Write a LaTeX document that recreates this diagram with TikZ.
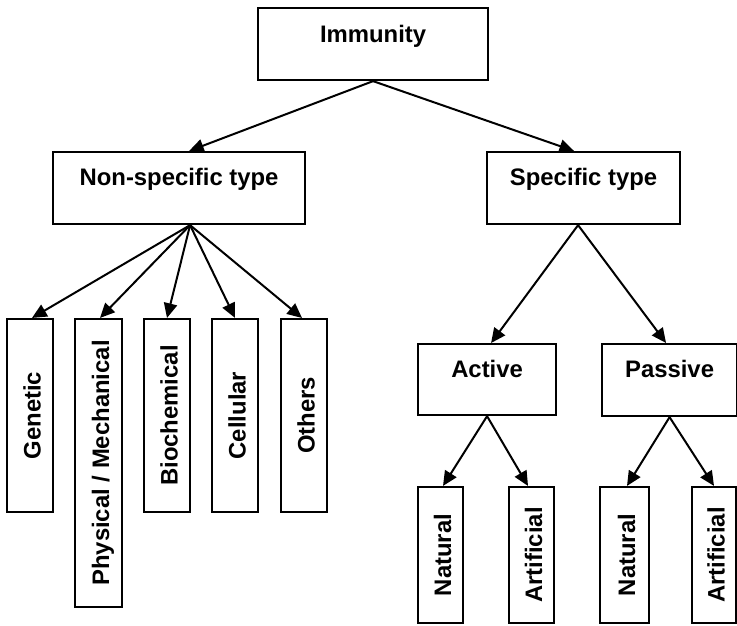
\documentclass[tikz,border=0pt]{standalone}
\usepackage{fontspec}
\usepackage{graphicx}
\setmainfont{Liberation Sans}
\usetikzlibrary{arrows.meta,calc}

% rotated label with a fixed height so every column sits the same way
\newcommand{\uptext}[1]{\rotatebox{90}{\raisebox{0pt}[15.75pt][0pt]{#1}}}

\begin{document}
\begin{tikzpicture}[x=0.75pt,y=-0.75pt,
  every node/.style={font=\fontsize{17.9pt}{21pt}\selectfont\bfseries},
  hbox/.style={draw, line width=1.6pt, inner sep=0pt, anchor=north west},
  vbox/.style={draw, line width=1.6pt, inner sep=0pt},
  link/.style={line width=1.5pt, -{Triangle[length=11pt,width=10pt]}}]
\useasboundingbox (0,0) rectangle (737,625);

% upper boxes, label near the top edge
\node[hbox, minimum width=172.5pt, text height=26pt, text depth=28pt] (imm) at (257,7) {Immunity};
\node[hbox, minimum width=189pt, text height=24.75pt, text depth=29.25pt] (non) at (52,151) {Non-specific type};
\node[hbox, minimum width=144.75pt, text height=24.75pt, text depth=29.25pt] (spec) at (486,151) {Specific type};
\node[hbox, minimum width=103.5pt, text height=24.75pt, text depth=28.5pt] (act) at (417,343) {Active};
\node[hbox, minimum width=101.25pt, text height=24.75pt, text depth=29.25pt] (pas) at (601,343) {Passive};

% non-specific branches
\node[vbox, minimum width=34.5pt, minimum height=144.75pt] (gen) at (30,415.5) {\uptext{Genetic}};
\node[vbox, minimum width=35.25pt, minimum height=216pt] (phys) at (98.5,463) {\uptext{Physical / Mechanical}};
\node[vbox, minimum width=34.5pt, minimum height=144.75pt] (bio) at (167,415.5) {\uptext{Biochemical}};
\node[vbox, minimum width=34.5pt, minimum height=144.75pt] (cell) at (235,415.5) {\uptext{Cellular}};
\node[vbox, minimum width=34.5pt, minimum height=144.75pt] (oth) at (304,415.5) {\uptext{Others}};

% specific branches
\node[vbox, minimum width=33.75pt, minimum height=102pt] (natA) at (440.5,555) {\uptext{Natural}};
\node[vbox, minimum width=33.75pt, minimum height=102pt] (artA) at (531.5,555) {\uptext{Artificial}};
\node[vbox, minimum width=36.75pt, minimum height=102pt] (natP) at (624.5,555) {\uptext{Natural}};
\node[vbox, minimum width=33pt, minimum height=102pt] (artP) at (714,555) {\uptext{Artificial}};

% connectors
\draw[link] (imm.south) -- ($(non.north)+(10,0)$);
\draw[link] (imm.south) -- ($(spec.north)+(-9.5,0)$);

\coordinate (nsrc) at ($(non.south)+(11,0)$);
\draw[link] (nsrc) -- ($(gen.north)+(2,0)$);
\draw[link] (nsrc) -- ($(phys.north)+(1.5,0)$);
\draw[link] (nsrc) -- (bio.north);
\draw[link] (nsrc) -- (cell.north);
\draw[link] (nsrc) -- ($(oth.north)+(-2,0)$);

\coordinate (ssrc) at ($(spec.south)+(-5.5,0)$);
\draw[link] (ssrc) -- ($(act.north)+(4,0)$);
\draw[link] (ssrc) -- ($(pas.north)+(-3.5,0)$);

\draw[link] (act.south) -- ($(natA.north)+(2.5,0)$);
\draw[link] (act.south) -- ($(artA.north)+(-3.5,0)$);
\draw[link] (pas.south) -- ($(natP.north)+(2.5,0)$);
\draw[link] (pas.south) -- (artP.north);
\end{tikzpicture}
\end{document}
